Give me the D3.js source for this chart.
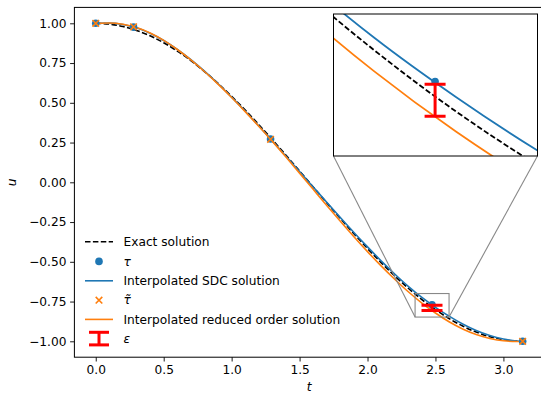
<!DOCTYPE html>
<html>
<head>
<meta charset="utf-8">
<script src="https://cdn.jsdelivr.net/npm/d3@7"></script>
<style>
  body { margin: 0; background: #fff; }
  svg { display: block; font-family: "DejaVu Sans", sans-serif; }
</style>
</head>
<body>
<svg id="chart" width="541" height="394"></svg>
<script>
// time grid shared by the three curves
var tGrid = [0, 0.1, 0.2, 0.3, 0.4, 0.5, 0.6, 0.7, 0.8, 0.9, 1.0, 1.1, 1.2, 1.3, 1.4, 1.5,
             1.6, 1.7, 1.8, 1.9, 2.0, 2.1, 2.2, 2.3, 2.4, 2.5, 2.6, 2.7, 2.8, 2.9, 3.0, 3.1, 3.1416];
var uExact = [1.0000, 0.9950, 0.9801, 0.9553, 0.9211, 0.8776, 0.8253, 0.7648, 0.6967, 0.6216,
              0.5403, 0.4536, 0.3624, 0.2675, 0.1700, 0.0707, -0.0292, -0.1288, -0.2272, -0.3233,
              -0.4161, -0.5048, -0.5885, -0.6663, -0.7374, -0.8011, -0.8569, -0.9041, -0.9422,
              -0.9710, -0.9900, -0.9991, -1.0000];
var uSDC = [1.0000, 1.0010, 0.9921, 0.9713, 0.9371, 0.8916, 0.8353, 0.7708, 0.6987, 0.6196,
            0.5353, 0.4466, 0.3544, 0.2595, 0.1640, 0.0677, -0.0292, -0.1258, -0.2212, -0.3153,
            -0.4061, -0.4938, -0.5765, -0.6543, -0.7244, -0.7861, -0.8419, -0.8911, -0.9322,
            -0.9640, -0.9860, -0.9981, -1.0000];
var uReduced = [1.0000, 1.0020, 0.9941, 0.9733, 0.9391, 0.8926, 0.8353, 0.7698, 0.6967, 0.6176,
                0.5333, 0.4446, 0.3524, 0.2575, 0.1590, 0.0577, -0.0442, -0.1458, -0.2452, -0.3423,
                -0.4361, -0.5258, -0.6095, -0.6883, -0.7594, -0.8221, -0.8769, -0.9221, -0.9572,
                -0.9820, -0.9970, -1.0011, -1.0000];

// collocation nodes
var tauT = [0, 0.2784, 1.2865, 2.4745, 3.1416];
var tauU = [1.0000, 0.9758, 0.2724, -0.7700, -1.0000];
var tauTildeT = [0, 0.2784, 1.2865, 3.1416];
var tauTildeU = [1.0000, 0.9778, 0.2704, -1.0000];

// error bar at the zoomed node
var errT = 2.4745;
var errTop = -0.7728;
var errBottom = -0.8061;

// zoom window
var zoomT = [2.35, 2.60];
var zoomU = [-0.8476, -0.6996];

var xTicks = [0, 0.5, 1.0, 1.5, 2.0, 2.5, 3.0];
var yTicks = [-1.0, -0.75, -0.5, -0.25, 0, 0.25, 0.5, 0.75, 1.0];

var legendLabels = ["Exact solution", "τ", "Interpolated SDC solution", "τ̃",
                    "Interpolated reduced order solution", "ε"];

var BLUE = "#1f77b4", ORANGE = "#ff7f0e", RED = "#ff0000";
var FS = "12.2px";

var svg = d3.select("#chart");
var axL = 74.4, axR = 544, axT = 7.4, axB = 357.2;

var x = d3.scaleLinear().domain([-0.1571, 3.2987]).range([axL, axR]);
var y = d3.scaleLinear().domain([-1.1, 1.1]).range([axB, axT]);

function rows(ts, us) {
    return ts.map(function(t, i) { return [t, us[i]]; });
}

var defs = svg.append("defs");
defs.append("clipPath").attr("id", "mainClip")
    .append("rect").attr("x", axL).attr("y", axT)
    .attr("width", axR - axL).attr("height", axB - axT);

// axes
var xAxis = svg.append("g")
    .attr("transform", "translate(0," + axB + ")")
    .call(d3.axisBottom(x).tickValues(xTicks).tickFormat(d3.format(".1f"))
        .tickSize(4.3).tickSizeOuter(0).tickPadding(3.6));
var yAxis = svg.append("g")
    .attr("transform", "translate(" + axL + ",0)")
    .call(d3.axisLeft(y).tickValues(yTicks).tickFormat(d3.format(".2f"))
        .tickSize(4.3).tickSizeOuter(0).tickPadding(3.6));
[xAxis, yAxis].forEach(function(a) {
    a.select(".domain").remove();
    a.selectAll("text").style("font-size", FS).attr("fill", "#000")
        .style("font-family", "DejaVu Sans");
    a.selectAll("line").attr("stroke", "#000").attr("stroke-width", 0.9);
});

svg.append("text").attr("x", (axL + axR) / 2).attr("y", 391)
    .attr("text-anchor", "middle").style("font-size", FS).style("font-style", "italic")
    .text("t");
svg.append("text").attr("transform", "translate(16," + ((axT + axB) / 2) + ") rotate(-90)")
    .attr("text-anchor", "middle").style("font-size", FS).style("font-style", "italic")
    .text("u");

function drawCurves(g, xs, ys, lw) {
    var line = d3.line().curve(d3.curveMonotoneX)
        .x(function(d) { return xs(d[0]); })
        .y(function(d) { return ys(d[1]); });
    g.append("path").datum(rows(tGrid, uExact)).attr("d", line)
        .attr("fill", "none").attr("stroke", "#000").attr("stroke-width", lw)
        .attr("stroke-dasharray", "5.5,2.4");
    g.append("path").datum(rows(tGrid, uSDC)).attr("d", line)
        .attr("fill", "none").attr("stroke", BLUE).attr("stroke-width", lw);
    g.append("path").datum(rows(tGrid, uReduced)).attr("d", line)
        .attr("fill", "none").attr("stroke", ORANGE).attr("stroke-width", lw);
}

function drawMarkers(g, xs, ys) {
    g.selectAll("circle.tau").data(rows(tauT, tauU)).enter().append("circle")
        .attr("class", "tau")
        .attr("cx", function(d) { return xs(d[0]); })
        .attr("cy", function(d) { return ys(d[1]); })
        .attr("r", 3.8).attr("fill", BLUE);
    g.selectAll("path.tauTilde").data(rows(tauTildeT, tauTildeU)).enter().append("path")
        .attr("class", "tauTilde")
        .attr("d", function(d) {
            var cx = xs(d[0]), cy = ys(d[1]), s = 3.3;
            return "M" + (cx - s) + "," + (cy - s) + "L" + (cx + s) + "," + (cy + s) +
                   "M" + (cx - s) + "," + (cy + s) + "L" + (cx + s) + "," + (cy - s);
        })
        .attr("stroke", ORANGE).attr("stroke-width", 1.6).attr("fill", "none");
}

function drawErrorBar(g, xs, ys) {
    var cx = xs(errT), y1 = ys(errTop), y2 = ys(errBottom), cap = 10.5;
    g.append("line").attr("x1", cx).attr("x2", cx).attr("y1", y1).attr("y2", y2)
        .attr("stroke", RED).attr("stroke-width", 3);
    [y1, y2].forEach(function(yy) {
        g.append("line").attr("x1", cx - cap).attr("x2", cx + cap).attr("y1", yy).attr("y2", yy)
            .attr("stroke", RED).attr("stroke-width", 3);
    });
}

var plot = svg.append("g").attr("clip-path", "url(#mainClip)");
drawCurves(plot, x, y, 1.6);
drawMarkers(plot, x, y);
drawErrorBar(plot, x, y);

// zoom indicator and connectors
var ix0 = 333.5, ix1 = 537.5, iy0 = 14, iy1 = 156;
var rx0 = x(zoomT[0]), rx1 = x(zoomT[1]), ry0 = y(zoomU[1]), ry1 = y(zoomU[0]);
svg.append("rect").attr("x", rx0).attr("y", ry0).attr("width", rx1 - rx0).attr("height", ry1 - ry0)
    .attr("fill", "none").attr("stroke", "#888").attr("stroke-width", 1.1);
svg.append("line").attr("x1", rx0).attr("y1", ry1).attr("x2", ix0).attr("y2", iy1)
    .attr("stroke", "#888").attr("stroke-width", 1.1);
svg.append("line").attr("x1", rx1).attr("y1", ry1).attr("x2", ix1).attr("y2", iy1)
    .attr("stroke", "#888").attr("stroke-width", 1.1);

// inset
var xi = d3.scaleLinear().domain(zoomT).range([ix0, ix1]);
var yi = d3.scaleLinear().domain(zoomU).range([iy1, iy0]);
defs.append("clipPath").attr("id", "insetClip")
    .append("rect").attr("x", ix0).attr("y", iy0).attr("width", ix1 - ix0).attr("height", iy1 - iy0);
svg.append("rect").attr("x", ix0).attr("y", iy0).attr("width", ix1 - ix0).attr("height", iy1 - iy0)
    .attr("fill", "#fff");
var inset = svg.append("g").attr("clip-path", "url(#insetClip)");
drawCurves(inset, xi, yi, 1.8);
drawMarkers(inset, xi, yi);
drawErrorBar(inset, xi, yi);
svg.append("rect").attr("x", ix0).attr("y", iy0).attr("width", ix1 - ix0).attr("height", iy1 - iy0)
    .attr("fill", "none").attr("stroke", "#000").attr("stroke-width", 1);

// frame
svg.append("rect").attr("x", axL).attr("y", axT).attr("width", axR - axL).attr("height", axB - axT)
    .attr("fill", "none").attr("stroke", "#000").attr("stroke-width", 1);

// legend
var legY = [241.7, 261.4, 280.8, 300.2, 319.4, 338.6];
var hx0 = 85, hx1 = 113, hc = 99, tx = 123.5;
var leg = svg.append("g");
leg.append("line").attr("x1", hx0).attr("x2", hx1).attr("y1", legY[0]).attr("y2", legY[0])
    .attr("stroke", "#000").attr("stroke-width", 1.6).attr("stroke-dasharray", "5.5,2.4");
leg.append("circle").attr("cx", hc).attr("cy", legY[1]).attr("r", 3.8).attr("fill", BLUE);
leg.append("line").attr("x1", hx0).attr("x2", hx1).attr("y1", legY[2]).attr("y2", legY[2])
    .attr("stroke", BLUE).attr("stroke-width", 1.6);
leg.append("path")
    .attr("d", "M" + (hc - 3.3) + "," + (legY[3] - 3.3) + "L" + (hc + 3.3) + "," + (legY[3] + 3.3) +
               "M" + (hc - 3.3) + "," + (legY[3] + 3.3) + "L" + (hc + 3.3) + "," + (legY[3] - 3.3))
    .attr("stroke", ORANGE).attr("stroke-width", 1.6);
leg.append("line").attr("x1", hx0).attr("x2", hx1).attr("y1", legY[4]).attr("y2", legY[4])
    .attr("stroke", ORANGE).attr("stroke-width", 1.6);
leg.append("line").attr("x1", hc).attr("x2", hc).attr("y1", legY[5] - 6.3).attr("y2", legY[5] + 6.3)
    .attr("stroke", RED).attr("stroke-width", 3);
[legY[5] - 6.3, legY[5] + 6.3].forEach(function(yy) {
    leg.append("line").attr("x1", hc - 10).attr("x2", hc + 10).attr("y1", yy).attr("y2", yy)
        .attr("stroke", RED).attr("stroke-width", 3);
});
legendLabels.forEach(function(label, i) {
    leg.append("text").attr("x", tx).attr("y", legY[i]).attr("dy", "0.35em")
        .style("font-size", FS)
        .style("font-style", (i === 1 || i === 3 || i === 5) ? "italic" : "normal")
        .text(label);
});
</script>
</body>
</html>
